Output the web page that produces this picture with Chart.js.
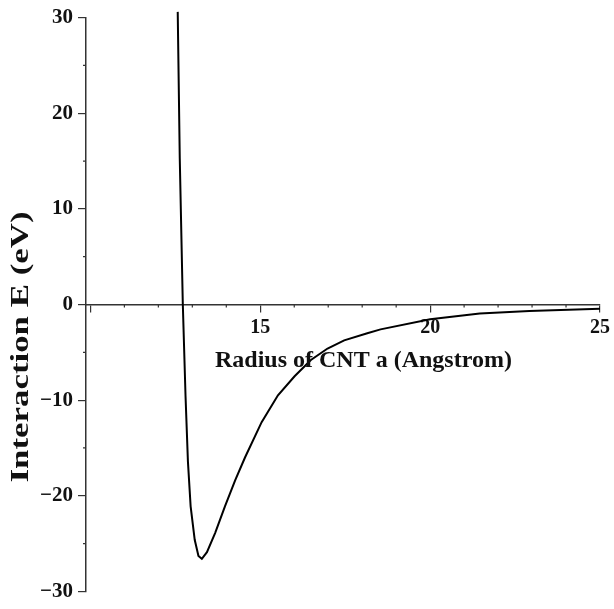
<!DOCTYPE html>
<html>
<head>
<meta charset="utf-8">
<script src="https://cdn.jsdelivr.net/npm/chart.js@4/dist/chart.umd.min.js"></script>
<style>
  html, body { margin: 0; padding: 0; background: #fff; }
  #wrap { width: 614px; height: 609px; }
</style>
</head>
<body>
<div id="wrap"><canvas id="plot"></canvas></div>
<script>
/* ---------- data ---------- */
const radius = [12.57, 12.63, 12.72, 12.80, 12.87, 12.95, 13.07, 13.18, 13.28, 13.43, 13.67,
                13.96, 14.26, 14.55, 15.04, 15.52, 16.01, 16.49, 16.98, 17.47, 18.15, 18.54,
                20.0, 21.46, 22.92, 25.0];
const energy = [30.6, 15.3, 0, -9.6, -16.4, -21.1, -24.6, -26.3, -26.6, -25.9, -23.9,
                -21.1, -18.4, -16.0, -12.3, -9.5, -7.5, -5.8, -4.6, -3.75, -3.0, -2.6,
                -1.55, -0.95, -0.68, -0.44];

const xMajor = [10, 15, 20, 25];
const xMinor = [11, 12, 13, 14, 16, 17, 18, 19, 21, 22, 23, 24];
const yMajor = [-30, -20, -10, 0, 10, 20, 30];
const yMinor = [-25, -15, -5, 5, 15, 25];

const xTitle = "Radius of CNT a (Angstrom)";
const yTitle = "Interaction E (eV)";

const FONT = "'Liberation Serif', 'Times New Roman', serif";
const AXIS = "#333";

/* ---------- minor ticks + axis titles ---------- */
const extras = {
  id: "extras",
  afterDraw(chart){
    const {ctx, chartArea, scales:{x, y}} = chart;
    const y0 = y.getPixelForValue(0);
    ctx.save();
    ctx.strokeStyle = AXIS;
    ctx.lineWidth = 1.2;
    ctx.beginPath();
    xMinor.forEach(v => {
      const px = x.getPixelForValue(v);
      ctx.moveTo(px, y0); ctx.lineTo(px, y0 + 3);
    });
    yMinor.forEach(v => {
      const py = y.getPixelForValue(v);
      ctx.moveTo(chartArea.left, py); ctx.lineTo(chartArea.left - 3, py);
    });
    ctx.stroke();

    ctx.fillStyle = "#111";
    ctx.font = "bold 24px " + FONT;
    ctx.textBaseline = "alphabetic";
    ctx.textAlign = "left";
    ctx.fillText(xTitle, chartArea.left + 129, y0 + 62);

    // y title is drawn a bit wider than the font, like the original export
    ctx.font = "bold 25px " + FONT;
    const w = ctx.measureText(yTitle).width;
    ctx.translate(28, 347);
    ctx.rotate(-Math.PI / 2);
    ctx.scale(271 / w, 1);
    ctx.textAlign = "center";
    ctx.fillText(yTitle, 0, 0);
    ctx.restore();
  }
};

new Chart(document.getElementById("plot"), {
  type: "line",
  data: {
    datasets: [{
      data: radius.map((r, i) => ({x: r, y: energy[i]})),
      borderColor: "#000",
      borderWidth: 2,
      pointRadius: 0,
      tension: 0,
      fill: false,
      clip: false
    }]
  },
  options: {
    responsive: true,
    maintainAspectRatio: false,
    animation: false,
    layout: {padding: {top: 14, right: 9, bottom: 9, left: 0}},
    plugins: {legend: {display: false}, tooltip: {enabled: false}},
    scales: {
      x: {
        type: "linear",
        min: 9.87, max: 25,
        position: {y: 0},
        afterBuildTicks: s => { s.ticks = xMajor.map(v => ({value: v})); },
        ticks: {
          callback: v => v === 10 ? "" : v,
          color: "#111",
          font: {family: FONT, size: 20, weight: "bold"},
          padding: 4,
          maxRotation: 0,
          autoSkip: false
        },
        grid: {drawOnChartArea: false, drawTicks: true, tickLength: 7, color: AXIS, lineWidth: 1.2},
        border: {display: true, color: AXIS, width: 1.5}
      },
      y: {
        type: "linear",
        min: -30, max: 30,
        position: "left",
        afterBuildTicks: s => { s.ticks = yMajor.map(v => ({value: v})); },
        afterFit: s => { s.width = 86; },
        ticks: {
          callback: v => v < 0 ? "\u2212" + Math.abs(v) : String(v),
          color: "#111",
          font: {family: FONT, size: 21, weight: "bold"},
          padding: 5,
          autoSkip: false
        },
        grid: {drawOnChartArea: false, drawTicks: true, tickLength: 8, color: AXIS, lineWidth: 1.2},
        border: {display: true, color: AXIS, width: 1.5}
      }
    }
  },
  plugins: [extras]
});
</script>
</body>
</html>
